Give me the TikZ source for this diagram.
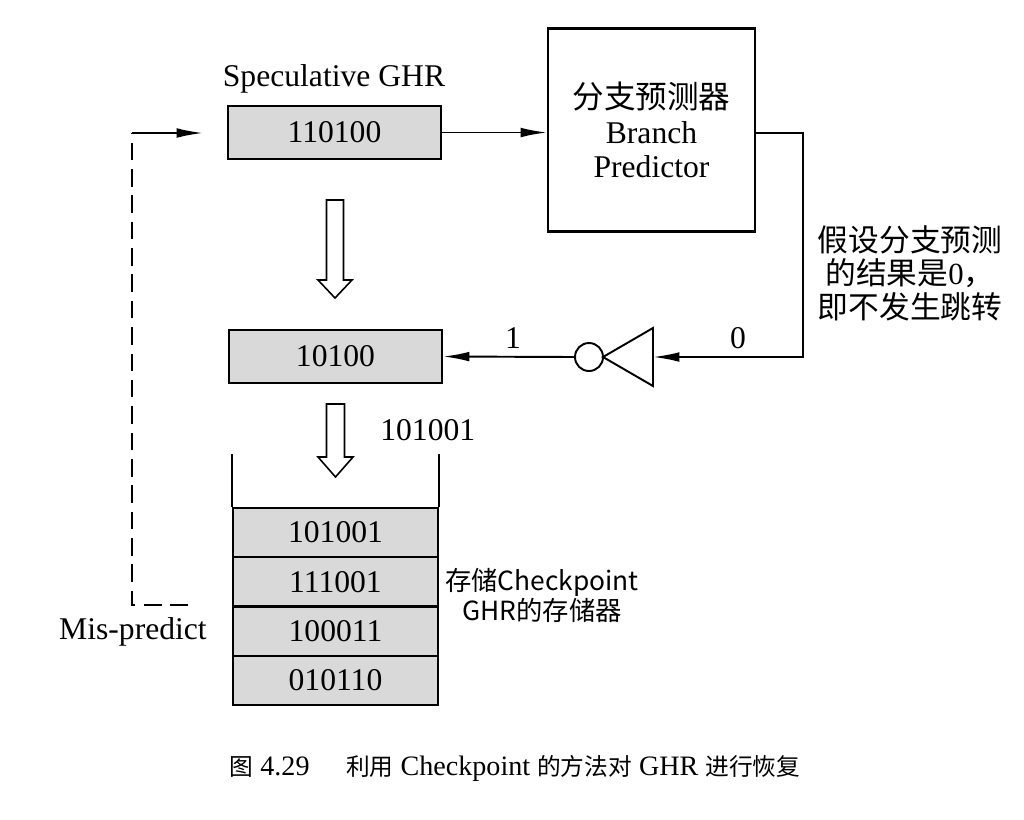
\documentclass[tikz,border=0pt]{standalone}
\usepackage{fontspec}
\setmainfont{Liberation Serif}
\newfontfamily\cjk{Noto Sans CJK SC}
\usetikzlibrary{arrows.meta}
\begin{document}
\begin{tikzpicture}[x=0.02cm,y=-0.02cm,
  reg/.style={draw, line width=1.2pt, fill=black!15, minimum width=4.26cm, minimum height=1.06cm, inner sep=0, font=\fontsize{18}{20}\selectfont},
  row/.style={draw, line width=1.2pt, fill=black!15, minimum width=4.1cm, minimum height=0.985cm, inner sep=0, font=\fontsize{18}{20}\selectfont},
  lbl/.style={inner sep=0, font=\fontsize{18}{20}\selectfont},
  arr/.style={line width=1.1pt, -{Latex[length=15pt,width=5.5pt]}},
  wire/.style={line width=1.1pt},
  hollow/.style={line width=0.9pt, fill=white, line join=miter}
]
\useasboundingbox (0,0) rectangle (1024,819);

% Speculative GHR
\node[lbl] (spectitle) at (334,79) {Speculative GHR};
\node[reg] (spec) at (334.5,132.5) {110100};

% Branch predictor
\node[draw, line width=1.2pt, minimum width=4.14cm, minimum height=4.06cm, inner sep=0, align=center,
      font=\fontsize{18}{19.5}\selectfont] (bp) at (651.5,130)
      {{\cjk 分支预测器}\\Branch\\Predictor};
\draw[arr] (spec.east) -- (spec.east -| bp.west);

% current GHR
\node[reg] (cur) at (335.5,356.5) {10100};

% output path of predictor
\coordinate (c1) at (803,133);
\coordinate (c2) at (803,357);
\coordinate (invin) at (653,357);
\coordinate (invtop) at (653,328);
\coordinate (invbot) at (653,386);
\coordinate (invtip) at (603,357);
\draw[arr] (bp.east |- c1) -- (c1) -- (c2) -- (invin);
\draw[wire, line join=miter] (invtop) -- (invbot) -- (invtip) -- cycle;
\node[circle, draw, line width=1.1pt, minimum size=0.56cm, inner sep=0] (bub) at (589,357) {};
\draw[arr] (bub.west) -- (cur.east);
\node[lbl] (one) at (513,338) {1};
\node[lbl] (zero) at (738,338) {0};

% annotation
\node[inner sep=0, align=center, font=\fontsize{17.5}{19}\selectfont] (note) at (910,273)
  {{\cjk 假设分支预测}\\{\cjk 的结果是}0{\cjk ，}\\{\cjk 即不发生跳转}};

% hollow arrows
\draw[hollow] (326.5,200) -- (343.5,200) -- (343.5,280) -- (352,280) -- (335,298) -- (318,280) -- (326.5,280) -- cycle;
\draw[hollow] (326.5,404) -- (344.5,404) -- (344.5,457) -- (353,457) -- (335.5,477) -- (318,457) -- (326.5,457) -- cycle;
\node[lbl, anchor=west] (incoming) at (380,430) {101001};

% checkpoint stack
\node[row] (s1) at (335.5,532.6) {101001};
\node[row] (s2) at (335.5,581.9) {111001};
\node[row] (s3) at (335.5,631.1) {100011};
\node[row] (s4) at (335.5,680.4) {010110};
\draw[wire] (s1.north west) -- ++(0,-53);
\draw[wire] (s1.north east) -- ++(0,-53);
\node[inner sep=0, align=center, font=\cjk\fontsize{15}{16}\selectfont] (stlabel) at (542,595)
  {存储Checkpoint\\GHR的存储器};

% mis-predict path
\coordinate (mpend) at (188,605);
\coordinate (mpc) at (132,605);
\coordinate (mpt) at (132,133);
\coordinate (specin) at (203,133);
\draw[wire, dash pattern=on 10pt off 5pt] (mpend) -- (mpc) -- (mpt);
\draw[arr] (mpt) -- (specin);
\node[lbl] (mp) at (133,632) {Mis-predict};

% caption
\node[inner sep=0, font=\fontsize{16}{18}\selectfont] (cap) at (515,768)
  {{\cjk\fontsize{13.5}{18}\selectfont 图} 4.29\hspace{1.3em}{\cjk\fontsize{13.5}{18}\selectfont 利用} Checkpoint {\cjk\fontsize{13.5}{18}\selectfont 的方法对} GHR {\cjk\fontsize{13.5}{18}\selectfont 进行恢复}};
\end{tikzpicture}
\end{document}
